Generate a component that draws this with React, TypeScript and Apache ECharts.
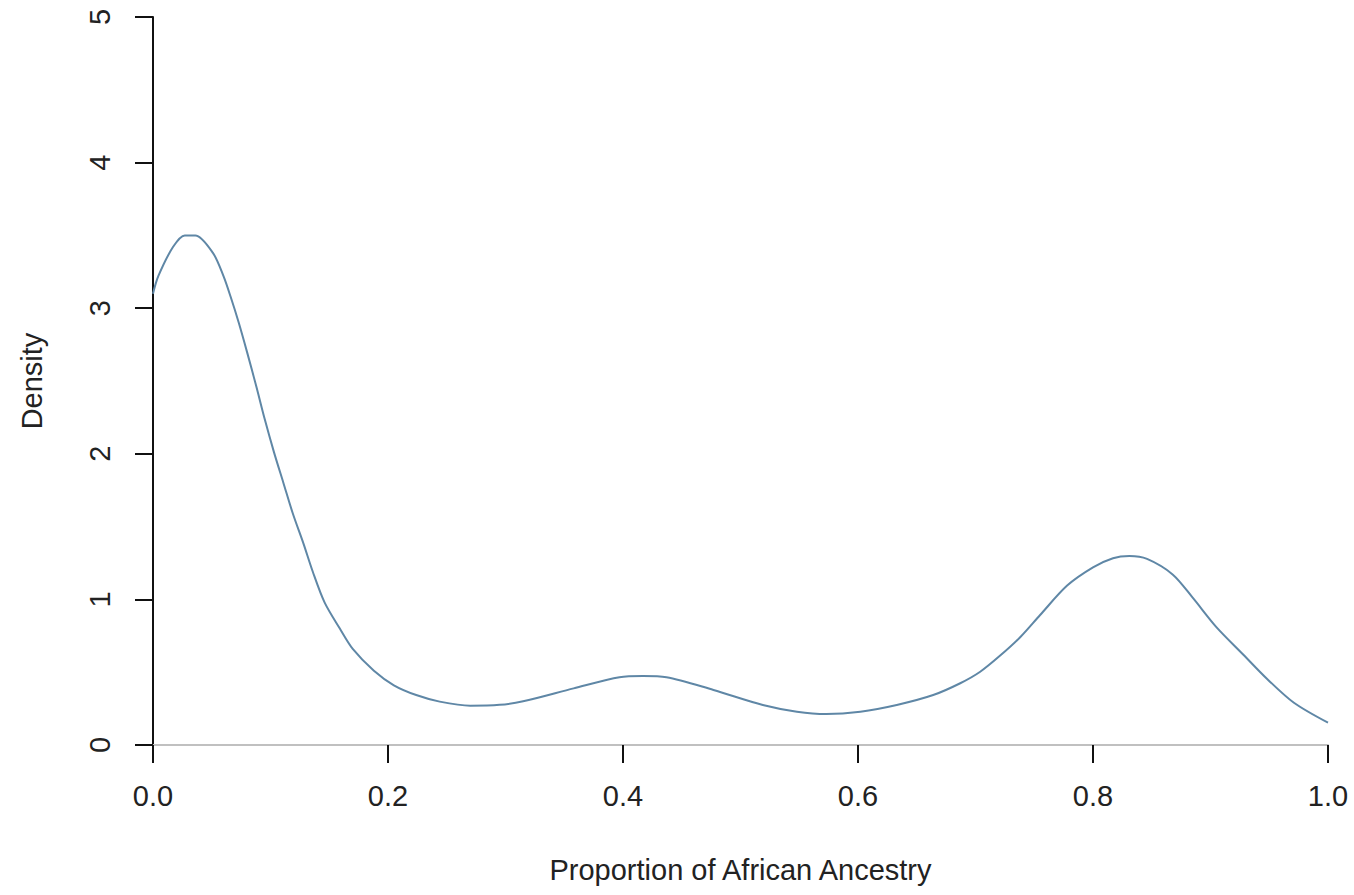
import React, { useEffect, useRef } from "react";
import * as echarts from "echarts";

const ancestryX = [
  0, 0.0045, 0.017, 0.027, 0.036, 0.051, 0.06, 0.066, 0.073, 0.08, 0.088, 0.095, 0.103, 0.111,
  0.119, 0.128, 0.136, 0.146, 0.159, 0.17, 0.188, 0.205, 0.224, 0.244, 0.27, 0.295, 0.315, 0.358,
  0.397, 0.417, 0.437, 0.477, 0.519, 0.548, 0.573, 0.602, 0.633, 0.664, 0.687, 0.704, 0.721, 0.738,
  0.755, 0.778, 0.8, 0.817, 0.831, 0.846, 0.868, 0.885, 0.905, 0.928, 0.948, 0.971, 1.0,
];
const densityY = [
  3.1, 3.22, 3.42, 3.5, 3.5, 3.38, 3.22, 3.08, 2.9, 2.7, 2.46, 2.24, 2.01, 1.8, 1.59, 1.385, 1.19,
  0.98, 0.8, 0.66, 0.51, 0.41, 0.343, 0.298, 0.27, 0.276, 0.3, 0.389, 0.466, 0.474, 0.466,
  0.378, 0.275, 0.229, 0.213, 0.229, 0.275, 0.343, 0.424, 0.503, 0.614, 0.74, 0.893, 1.095, 1.22,
  1.283, 1.298, 1.278, 1.17, 1.01, 0.81, 0.62, 0.455, 0.29, 0.153,
];
const xTicks = [0, 0.2, 0.4, 0.6, 0.8, 1.0];
const yTicks = [0, 1, 2, 3, 4, 5];
const xTitle = "Proportion of African Ancestry";
const yTitle = "Density";

export default function App() {
  const ref = useRef<HTMLDivElement>(null);
  useEffect(() => {
    if (!ref.current) return;
    const chart = echarts.init(ref.current, null, { renderer: "svg" });
    const font = "'Liberation Sans', Arial, sans-serif";
    chart.setOption({
      animation: false,
      backgroundColor: "#ffffff",
      grid: { left: 153, right: 26, top: 17, bottom: 150, containLabel: false },
      xAxis: {
        type: "value",
        min: xTicks[0],
        max: xTicks[xTicks.length - 1],
        interval: 0.2,
        name: xTitle,
        nameLocation: "middle",
        nameGap: 110,
        nameTextStyle: { fontFamily: font, fontSize: 29, color: "#222" },
        axisLine: { show: true, onZero: false, lineStyle: { color: "#c0c0c0", width: 2 } },
        axisTick: { show: true, inside: false, length: 18, lineStyle: { color: "#111", width: 2 } },
        axisLabel: {
          fontFamily: font,
          fontSize: 29,
          color: "#222",
          margin: 36,
          formatter: (v: number) => v.toFixed(1),
        },
        splitLine: { show: false },
      },
      yAxis: {
        type: "value",
        min: yTicks[0],
        max: yTicks[yTicks.length - 1],
        interval: 1,
        name: yTitle,
        nameLocation: "middle",
        nameGap: 107,
        nameTextStyle: { fontFamily: font, fontSize: 29, color: "#222" },
        axisLine: { show: true, onZero: false, lineStyle: { color: "#111", width: 2 } },
        axisTick: { show: true, inside: false, length: 18, lineStyle: { color: "#111", width: 2 } },
        axisLabel: {
          fontFamily: font,
          fontSize: 29,
          color: "#222",
          rotate: 90,
          margin: 39,
        },
        splitLine: { show: false },
      },
      series: [
        {
          type: "line",
          data: ancestryX.map((x, i) => [x, densityY[i]]),
          smooth: 0.3,
          showSymbol: false,
          lineStyle: { color: "#5f87a6", width: 2 },
        },
      ],
    });
    return () => chart.dispose();
  }, []);
  return (
    <div
      ref={ref}
      style={{ position: "fixed", left: 0, top: 0, width: 1354, height: 895, background: "#fff" }}
    />
  );
}
